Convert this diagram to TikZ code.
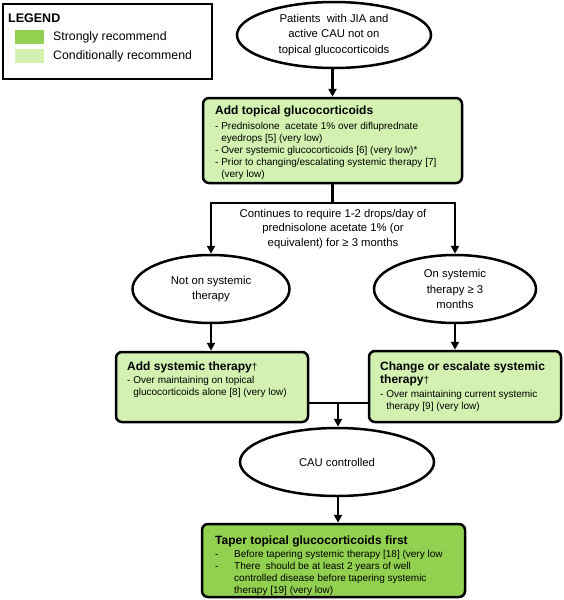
\documentclass[tikz,border=0pt]{standalone}
\usepackage{fontspec}
\setmainfont{Liberation Sans}
\usetikzlibrary{shapes.geometric,arrows.meta}
\definecolor{strongg}{HTML}{92D050}
\definecolor{condg}{HTML}{D3F2B2}
\begin{document}
\begin{tikzpicture}[x=1pt,y=-1pt,
  ell/.style={ellipse,draw,line width=2.5pt,inner sep=0pt,align=center,font=\fontsize{11.3}{15.5}\selectfont},
  box/.style={draw,line width=2.5pt,rounded corners=6pt,inner sep=0pt},
  arr/.style={line width=2.5pt,-{Triangle[length=8pt,width=8pt]}},
  ln/.style={line width=2.5pt},
  ttl/.style={font=\bfseries\fontsize{12}{13}\selectfont,anchor=base west,inner sep=0pt,align=left},
  ttlb/.style={font=\bfseries\fontsize{12}{13}\selectfont,anchor=north west,inner sep=0pt,align=left},
  txt/.style={font=\fontsize{10}{12}\selectfont,anchor=north west,inner sep=0pt,align=left},
  leg/.style={font=\fontsize{12.3}{14}\selectfont,anchor=west,inner sep=0pt},
  swatch/.style={minimum width=29pt,minimum height=14pt,inner sep=0pt,anchor=north west},
]
\useasboundingbox (0,0) rectangle (563,600);

% Legend
\node[draw,line width=1.8pt,minimum width=209pt,minimum height=75pt,inner sep=0pt,anchor=north west] (legend) at (2,3) {};
\node[leg,font=\bfseries\fontsize{12.5}{15}\selectfont] (legt) at (8,18) {LEGEND};
\node[swatch,fill=strongg] (sw1) at (15,30) {};
\node[swatch,fill=condg] (sw2) at (15,49) {};
\node[leg] (legs) at (53,37) {Strongly recommend};
\node[leg] (legc) at (53,56) {Conditionally recommend};

% Start
\node[ell,minimum width=194pt,minimum height=66pt] (start) at (334,35)
  {Patients\ \ with JIA and\\active CAU not on\\topical glucocorticoids};

% Box 1
\node[box,fill=condg,minimum width=259pt,minimum height=85pt] (b1) at (332.5,140.5) {};
\node[ttl] (b1t) at (215,114) {Add topical glucocorticoids};
\node[txt] (b1x) at (215,121.8) {- Prednisolone\ \ acetate 1\% over difluprednate\\
\phantom{- }eyedrops [5] (very low)\\
- Over systemic glucocorticoids [6] (very low)*\\
- Prior to changing/escalating systemic therapy [7]\\
\phantom{- }(very low)};

\draw[arr] (start.south -| b1.north) -- (b1.north);

% Split
\coordinate (split) at (333,203);
\draw[ln] (b1.south) -- (b1.south |- split);
\node[font=\fontsize{11.3}{14.5}\selectfont,align=center,inner sep=0pt] (cond) at (333,229)
  {Continues to require 1-2 drops/day of\\prednisolone acetate 1\% (or\\equivalent) for ≥ 3 months};

\node[ell,minimum width=157pt,minimum height=68pt] (ne) at (211,289) {Not on systemic\\therapy};
\node[ell,minimum width=162pt,minimum height=68pt] (os) at (455,289) {On systemic\\therapy ≥ 3\\months};

\draw[arr] (split) -| (ne.north);
\draw[arr] (split) -| (os.north);

% Left box
\node[box,fill=condg,minimum width=192pt,minimum height=70pt] (nb) at (212,387) {};
\node[ttl] (nbt) at (127,370) {Add systemic therapy{\mdseries\fontsize{10}{12}\selectfont †}};
\node[txt] (nbx) at (127,376) {- Over maintaining on topical\\
\phantom{- }glucocorticoids alone [8] (very low)};

% Right box
\node[box,fill=condg,minimum width=192pt,minimum height=71pt] (ob) at (465,386.5) {};
\node[ttlb] (obt) at (380,361.2) {Change or escalate systemic\\therapy{\mdseries\fontsize{10}{12}\selectfont †}};
\node[txt] (obx) at (380,390) {- Over maintaining current systemic\\
\phantom{- }therapy [9] (very low)};

\draw[arr] (ne.south) -- (ne.south |- nb.north);
\draw[arr] (os.south) -- (os.south |- ob.north);

% Join
\coordinate (join) at (338,403);
\draw[ln] (nb.east |- join) -- (ob.west |- join);

\node[ell,minimum width=194pt,minimum height=68pt] (cau) at (337,462) {CAU controlled};
\draw[arr] (join) -- (join |- cau.north);

% Final box
\node[box,fill=strongg,minimum width=263pt,minimum height=73pt] (fb) at (333.5,560.5) {};
\node[ttl] (fbt) at (215,544) {Taper topical glucocorticoids first};
\node[txt] (fbx) at (215,550) {\makebox[19pt][l]{-}Before tapering systemic therapy [18] (very low\\
\makebox[19pt][l]{-}There\ \ should be at least 2 years of well\\
\hspace*{19pt}controlled disease before tapering systemic\\
\hspace*{19pt}therapy [19] (very low)};

\draw[arr] (cau.south -| join) -- (join |- fb.north);
\end{tikzpicture}
\end{document}
